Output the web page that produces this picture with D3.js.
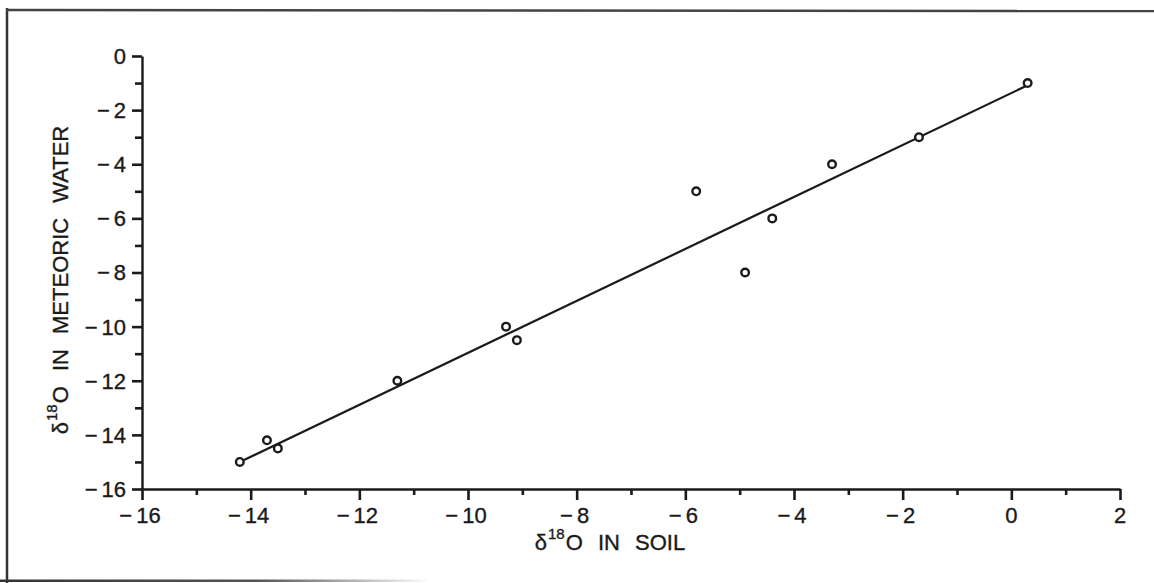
<!DOCTYPE html>
<html>
<head>
<meta charset="utf-8">
<script src="https://cdn.jsdelivr.net/npm/d3@7/dist/d3.min.js"></script>
<style>
  html, body { margin: 0; padding: 0; background: #fff; }
  svg { display: block; font-family: "Liberation Sans", Arial, Helvetica, sans-serif; }
</style>
</head>
<body>
<svg id="chart" width="1154" height="583"></svg>
<script>
// δ18O of soil carbonate vs δ18O of meteoric water
const soilO18 = [-14.2, -13.7, -13.5, -11.3, -9.3, -9.1, -5.8, -4.9, -4.4, -3.3, -1.7, 0.3];
const waterO18 = [-15.0, -14.2, -14.5, -12.0, -10.0, -10.5, -5.0, -8.0, -6.0, -4.0, -3.0, -1.0];

// regression line (water = slope * soil + intercept)
const fitSlope = 0.96;
const fitIntercept = -1.37;

const xMajorTicks = [-16, -14, -12, -10, -8, -6, -4, -2, 0, 2];
const xMinorTicks = [-15, -13, -11, -9, -7, -5, -3, -1, 1];
const yMajorTicks = [0, -2, -4, -6, -8, -10, -12, -14, -16];
const yMinorTicks = [-1, -3, -5, -7, -9, -11, -13, -15];

const xTitle = ["δ", "18", "O IN SOIL"];
const yTitle = ["δ", "18", "O IN METEORIC WATER"];

const ink = "#1a1a1a";
const svg = d3.select("#chart");

// page frame
svg.append("line").attr("x1", 7).attr("y1", 8).attr("x2", 7).attr("y2", 583)
  .attr("stroke", "#333").attr("stroke-width", 2.5);
svg.append("line").attr("x1", 6).attr("y1", 10).attr("x2", 1154).attr("y2", 11)
  .attr("stroke", "#444").attr("stroke-width", 2.5);
const grad = svg.append("defs").append("linearGradient").attr("id", "fade")
  .attr("x1", "0%").attr("x2", "100%");
grad.append("stop").attr("offset", "0%").attr("stop-color", "#333");
grad.append("stop").attr("offset", "60%").attr("stop-color", "#555");
grad.append("stop").attr("offset", "100%").attr("stop-color", "#fff");
svg.append("rect").attr("x", 0).attr("y", 579.5).attr("width", 430).attr("height", 2.5)
  .attr("fill", "url(#fade)");

const x = d3.scaleLinear().domain([-16, 2]).range([142, 1120]);
const y = d3.scaleLinear().domain([-16, 0]).range([489, 56]);

// axes
const gx = svg.append("g").attr("transform", `translate(0,${y(-16)})`);
gx.call(d3.axisBottom(x).tickValues(xMajorTicks).tickSize(11).tickSizeOuter(0).tickFormat(""));
gx.append("g").call(d3.axisBottom(x).tickValues(xMinorTicks).tickSize(6).tickSizeOuter(0).tickFormat(""))
  .select(".domain").remove();

const gy = svg.append("g").attr("transform", `translate(${x(-16)},0)`);
gy.call(d3.axisLeft(y).tickValues(yMajorTicks).tickSize(10).tickSizeOuter(0).tickFormat(""));
gy.append("g").call(d3.axisLeft(y).tickValues(yMinorTicks).tickSize(7).tickSizeOuter(0).tickFormat(""))
  .select(".domain").remove();

svg.selectAll(".domain").attr("stroke", ink).attr("stroke-width", 2.4);
svg.selectAll(".tick line").attr("stroke", ink).attr("stroke-width", 2.6);

// tick labels, minus sign set a little apart from the digits
function tickLabel(sel, v) {
  sel.attr("font-size", 22).attr("fill", ink)
    .attr("stroke", ink).attr("stroke-width", 0.35);
  if (v < 0) {
    sel.append("tspan").text("\u2212");
    sel.append("tspan").attr("dx", 4).text(String(-v));
  } else {
    sel.text(String(v));
  }
}

xMajorTicks.forEach(v => {
  const t = svg.append("text")
    .attr("x", x(v) + (v < 0 ? -2 : 0)).attr("y", y(-16) + 34)
    .attr("text-anchor", "middle");
  tickLabel(t, v);
});

yMajorTicks.forEach(v => {
  const t = svg.append("text")
    .attr("x", x(-16) - 16).attr("y", y(v)).attr("dy", "0.36em")
    .attr("text-anchor", "end");
  tickLabel(t, v);
});

// axis titles
function title(sel, parts) {
  sel.attr("font-size", 22).attr("fill", ink).attr("word-spacing", 9)
    .attr("stroke", ink).attr("stroke-width", 0.35);
  sel.append("tspan").text(parts[0]);
  sel.append("tspan").attr("font-size", 15).attr("dy", -11).attr("dx", 1).text(parts[1]);
  sel.append("tspan").attr("dy", 11).attr("dx", 1).text(parts[2]);
}

title(svg.append("text").attr("x", 610).attr("y", 550).attr("text-anchor", "middle"), xTitle);
title(svg.append("text").attr("text-anchor", "middle")
  .attr("transform", "translate(68,280) rotate(-90)"), yTitle);

// regression line over the range of the data
const [xMin, xMax] = d3.extent(soilO18);
svg.append("line")
  .attr("x1", x(xMin)).attr("y1", y(fitSlope * xMin + fitIntercept))
  .attr("x2", x(xMax)).attr("y2", y(fitSlope * xMax + fitIntercept))
  .attr("stroke", ink).attr("stroke-width", 2.2);

// sample points
svg.append("g").selectAll("circle")
  .data(soilO18.map((s, i) => [s, waterO18[i]]))
  .join("circle")
  .attr("cx", d => x(d[0])).attr("cy", d => y(d[1])).attr("r", 3.8)
  .attr("fill", "#fff").attr("stroke", ink).attr("stroke-width", 2.4);
</script>
</body>
</html>
